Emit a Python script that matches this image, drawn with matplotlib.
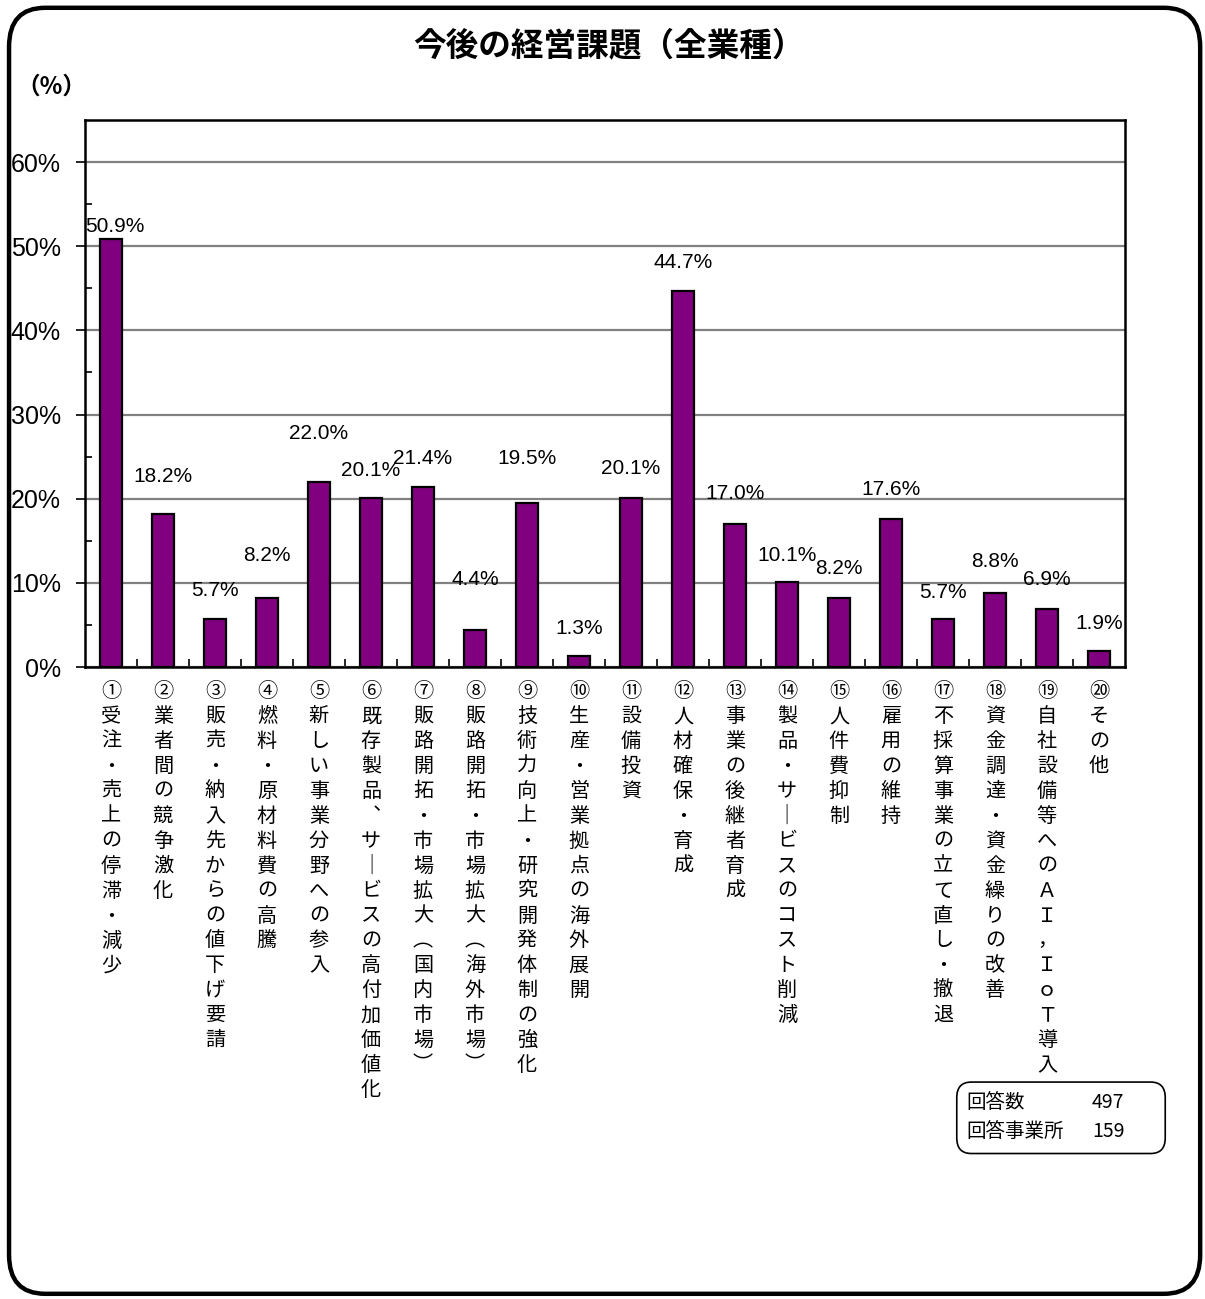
import matplotlib
matplotlib.use("Agg")
import matplotlib.pyplot as plt
from matplotlib.patches import FancyBboxPatch
import matplotlib.transforms as mtransforms

plt.rcParams['font.family'] = ['Noto Sans CJK JP', 'DejaVu Sans']

# データ
numeros = ["①", "②", "③", "④", "⑤", "⑥", "⑦", "⑧", "⑨", "⑩",
           "⑪", "⑫", "⑬", "⑭", "⑮", "⑯", "⑰", "⑱", "⑲", "⑳"]
categorias = [
    "受注・売上の停滞・減少",
    "業者間の競争激化",
    "販売・納入先からの値下げ要請",
    "燃料・原材料費の高騰",
    "新しい事業分野への参入",
    "既存製品、サービスの高付加価値化",
    "販路開拓・市場拡大（国内市場）",
    "販路開拓・市場拡大（海外市場）",
    "技術力向上・研究開発体制の強化",
    "生産・営業拠点の海外展開",
    "設備投資",
    "人材確保・育成",
    "事業の後継者育成",
    "製品・サービスのコスト削減",
    "人件費抑制",
    "雇用の維持",
    "不採算事業の立て直し・撤退",
    "資金調達・資金繰りの改善",
    "自社設備等へのＡＩ，ＩｏＴ導入",
    "その他",
]
valores = [50.9, 18.2, 5.7, 8.2, 22.0, 20.1, 21.4, 4.4, 19.5, 1.3,
           20.1, 44.7, 17.0, 10.1, 8.2, 17.6, 5.7, 8.8, 6.9, 1.9]
rotulos = [f"{v:.1f}%" for v in valores]

# altura dos rótulos acima das barras (pixels, como no original)
desloc_y = [12, 37, 29, 43, 48, 27, 28, 51, 44, 28,
            29, 28, 30, 27, 30, 29, 27, 31, 29, 28]
desloc_x = [4, 0, 0, 0, 0, 0, 0, 0, 0, 0,
            0, 0, 0, 0, 0, 0, 0, 0, 0, 0]

VERT = {"（": "︵", "）": "︶", "、": "︑", "ー": "｜"}


def vertical(s):
    return "\n".join(VERT.get(c, c) for c in s)


fig = plt.figure(figsize=(12.05, 12.99), dpi=100)
ax = fig.add_axes([0.0705, 0.4865, 0.863, 0.4211])

x = list(range(len(valores)))
ax.bar(x, valores, width=0.42, color="#800080", edgecolor="black", linewidth=1.6, zorder=3)

ax.set_xlim(-0.5, len(valores) - 0.5)
ax.set_ylim(0, 65)
ax.set_yticks([0, 10, 20, 30, 40, 50, 60])
ax.set_yticklabels([f"{t}%" for t in range(0, 70, 10)], fontsize=18,
                   family=['Liberation Sans', 'DejaVu Sans'])
ax.set_yticks(range(5, 65, 10), minor=True)
ax.tick_params(axis='y', which='major', direction='out', length=6.5, width=1.2, pad=11)
ax.tick_params(axis='y', which='minor', direction='in', length=5, width=1.2)
ax.yaxis.grid(True, which='major', color='#808080', linewidth=1.6, zorder=0)

ax.set_xticks([i + 0.5 for i in range(len(valores) - 1)])
ax.set_xticklabels([])
ax.tick_params(axis='x', direction='in', length=6, width=1.2)

for s in ax.spines.values():
    s.set_linewidth(1.8)
    s.set_color("black")

for i, (v, r) in enumerate(zip(valores, rotulos)):
    ax.annotate(r, (i, v), xytext=(desloc_x[i] * 0.72, desloc_y[i] * 0.72), textcoords='offset points',
                ha='center', va='center', fontsize=15,
                family=['Liberation Sans', 'DejaVu Sans'], zorder=4)

# rótulos das categorias na vertical
trans = mtransforms.blended_transform_factory(ax.transData, ax.transAxes)
for i, (n, c) in enumerate(zip(numeros, categorias)):
    ax.text(i, -0.026, n + "\n" + vertical(c), transform=trans, ha='center', va='top',
            fontsize=14.5, linespacing=1.245)

fig.text(0.505, 0.965, "今後の経営課題（全業種）", ha='center', va='center',
         fontsize=23.5, fontweight='bold')
fig.text(0.043, 0.933, "（%）", ha='center', va='center', fontsize=17, fontweight='bold')

# caixa com número de respostas
caixa = FancyBboxPatch((0.794, 0.112), 0.173, 0.055, boxstyle="round,pad=0,rounding_size=0.012",
                       transform=fig.transFigure, facecolor='white', edgecolor='black', linewidth=1.2,
                       zorder=5)
fig.add_artist(caixa)
fig.text(0.802, 0.151, "回答数", fontsize=14, va='center', zorder=6)
fig.text(0.933, 0.151, "497", fontsize=14, va='center', ha='right', zorder=6)
fig.text(0.802, 0.129, "回答事業所", fontsize=14, va='center', zorder=6)
fig.text(0.933, 0.129, "159", fontsize=14, va='center', ha='right', zorder=6)

# moldura externa arredondada
moldura = FancyBboxPatch((0.0075, 0.004), 0.9885, 0.99, boxstyle="round,pad=0,rounding_size=0.03",
                         transform=fig.transFigure, facecolor='none', edgecolor='black', linewidth=3.2)
fig.add_artist(moldura)

fig.savefig("out.png", dpi=100)
